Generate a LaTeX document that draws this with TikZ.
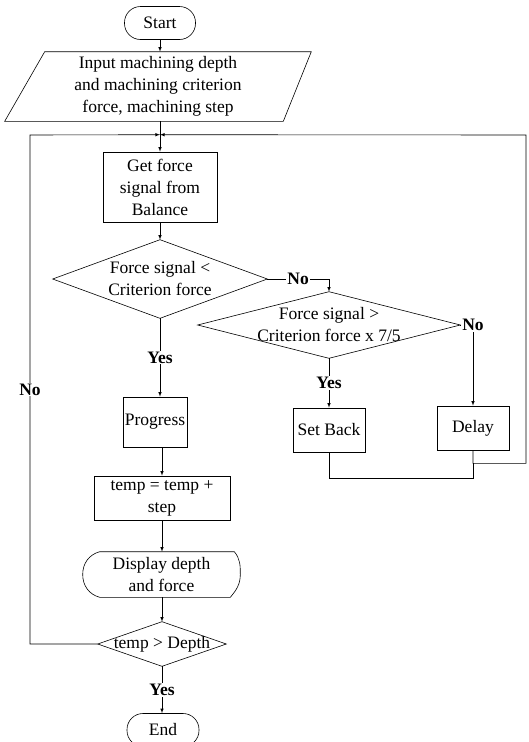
\documentclass[tikz,border=0pt]{standalone}
\usepackage{fontspec}
\setmainfont{Liberation Serif}
\tikzset{
	base/.style={align=center, inner sep=2pt, font=\fontsize{17.5}{22}\selectfont},
	term/.style={base, draw, rounded corners=16pt},
	proc/.style={base, draw, rectangle},
	shp/.style={base, rectangle},
	lbl/.style={font=\fontsize{17.5}{22}\selectfont\bfseries, fill=white, inner sep=1pt},
}

\begin{document}
\begin{tikzpicture}[x=1pt, y=-1pt, line width=0.6pt, >=latex]
	\useasboundingbox (0,0) rectangle (529,742);

	\node[term, minimum width=71pt, minimum height=33pt] (start) at (160,23) {Start};
	\node[shp, minimum width=306pt, minimum height=69pt] (input) at (158,86.5) {Input machining depth\\and machining criterion\\force, machining step};
	\node[proc, minimum width=114pt, minimum height=70pt] (getf) at (160,187) {Get force\\signal from\\Balance};
	\node[shp, minimum width=214pt, minimum height=78pt] (d1) at (160,279) {Force signal <\\Criterion force};
	\node[shp, minimum width=262pt, minimum height=66pt] (d2) at (329,325) {Force signal >\\Criterion force x 7/5};
	\node[proc, minimum width=62pt, minimum height=50pt] (prog) at (155,422) {Progress};
	\node[proc, minimum width=72pt, minimum height=44pt] (setb) at (329,430) {Set Back};
	\node[proc, minimum width=72pt, minimum height=44pt] (delay) at (473,428) {Delay};
	\node[proc, minimum width=136pt, minimum height=44pt] (temp) at (162,498) {temp = temp +\\step};
	\node[shp, minimum width=157pt, minimum height=45pt] (disp) at (161.5,574.5) {Display depth\\and force};
	\node[shp, minimum width=128pt, minimum height=44pt] (d3) at (162,644) {temp > Depth};
	\node[term, minimum width=72pt, minimum height=33pt] (end) at (163,730) {End};

	% outlines
	\draw ([xshift=40pt]input.north west) -- (input.north east) -- ([xshift=-28pt]input.south east) -- (input.south west) -- cycle;
	\foreach \n in {d1,d2,d3}
		\draw (\n.west) -- (\n.north) -- (\n.east) -- (\n.south) -- cycle;
	\draw ([xshift=17pt]disp.north west) -- ([xshift=-6pt]disp.north east) to[out=-50,in=90] (disp.east)
		to[out=-90,in=50] ([xshift=-10pt]disp.south east) -- ([xshift=17pt]disp.south west)
		to[out=165,in=-90] (disp.west) to[out=90,in=195] ([xshift=17pt]disp.north west);

	\coordinate (join) at ([yshift=17pt]getf.north);
	\coordinate (lbound) at (30,135);
	\coordinate (rbound) at (526,135);
	\coordinate (merge) at ([yshift=-13pt]delay.south);

	\draw[->] (start.south) -- (start.south |- input.north);
	\draw[->] (input.south -| getf.north) -- (getf.north);
	\draw[->] (getf.south) -- (d1.north);
	\draw[->] (d1.east) -- node[lbl] {No} (d1.east -| d2.north) -- (d2.north);
	\draw[->] (d1.south) -- node[lbl] {Yes} (d1.south |- prog.north);
	\draw[->] (d2.south) -- node[lbl] {Yes} (setb.north);
	\draw[->] (d2.east) -| node[lbl] {No} (delay.north);
	\draw[->] (temp.north |- prog.south) -- (temp.north);
	\draw[->] (temp.south) -- (temp.south |- disp.north);
	\draw[->] (d3.north |- disp.south) -- (d3.north);
	\draw[->] (d3.south) -- node[lbl] {Yes} (d3.south |- end.north);
	\draw[->] (d3.west) -| node[lbl, pos=0.75] {No} (lbound) -- (join);
	\draw (setb.south) -- ++(0,26) -| (merge);
	\draw[->] (delay.south) -- (merge) -| (rbound) -- (join);

\end{tikzpicture}
\end{document}
